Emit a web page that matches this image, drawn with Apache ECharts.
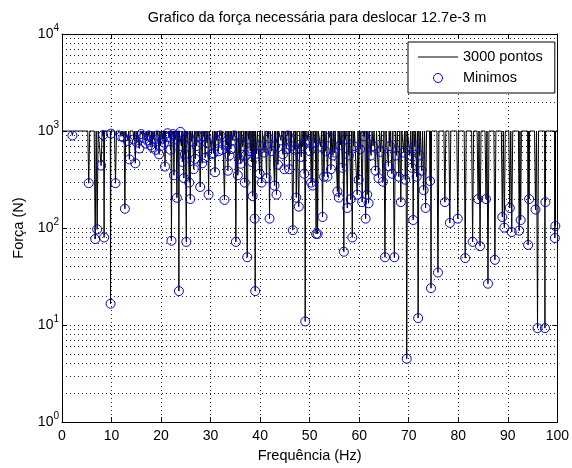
<!DOCTYPE html>
<html><head><meta charset="utf-8">
<script src="https://cdn.jsdelivr.net/npm/echarts@6/dist/echarts.min.js"></script>
<style>html,body{margin:0;padding:0;background:#fff}#c{width:572px;height:468px}</style>
</head><body><div id="c"></div>
<script>
// Minima (blue circles): frequency (Hz) and force (N)
const minFreq = [
  2.1, 5.4, 6.7, 7.1, 7.9, 8.3, 8.5, 9.8, 9.9, 10.8, 11.9, 12.4, 12.7, 13.3, 13.6, 14.5, 14.8, 15.1, 15.6, 16.0,
  16.3, 16.9, 17.2, 17.5, 17.9, 18.2, 18.5, 18.9, 19.2, 19.6, 19.9, 20.3, 20.6, 20.8, 21.3, 21.6, 21.9, 22.1, 22.4, 22.6,
  22.9, 23.2, 23.5, 23.6, 23.9, 24.1, 24.3, 24.6, 24.8, 25.1, 25.3, 25.7, 25.9, 26.2, 26.6, 26.9, 27.2, 27.5, 27.9, 28.3,
  28.6, 28.9, 29.3, 29.6, 30.2, 30.6, 30.9, 31.2, 31.6, 32.0, 32.3, 32.8, 33.2, 33.5, 33.8, 34.1, 34.5, 34.8, 35.1, 35.5,
  35.8, 36.1, 36.5, 36.9, 37.1, 37.4, 37.7, 38.0, 38.3, 38.5, 38.9, 39.0, 39.3, 39.9, 40.0, 40.3, 40.8, 41.3, 41.6, 41.9,
  42.3, 42.9, 43.0, 43.3, 43.6, 44.2, 44.6, 44.9, 45.3, 45.6, 45.9, 46.2, 46.6, 47.0, 47.3, 47.8, 48.3, 48.6, 48.9, 49.1,
  49.5, 50.0, 50.3, 50.6, 51.0, 51.3, 51.6, 52.2, 52.6, 52.9, 53.2, 53.6, 54.0, 54.3, 54.7, 55.0, 55.6, 55.9, 56.2, 56.6,
  56.9, 57.2, 57.6, 57.9, 58.3, 58.6, 58.9, 59.6, 59.9, 60.2, 60.6, 61.0, 61.3, 61.6, 61.9, 62.4, 62.8, 63.3, 63.9, 64.3,
  64.8, 65.2, 65.9, 66.2, 66.6, 67.1, 67.5, 68.0, 68.4, 69.0, 69.3, 69.6, 70.2, 70.6, 70.9, 71.2, 71.6, 71.9, 72.2, 72.6,
  73.0, 73.4, 74.3, 74.5, 75.9, 77.3, 78.3, 79.9, 81.4, 82.9, 84.0, 84.4, 85.6, 86.0, 87.4, 88.9, 89.3, 90.4, 90.8, 92.3,
  92.6, 94.1, 94.3, 95.6, 96.0, 97.5, 97.6, 99.5, 99.6
];
const minForce = [
  900, 290, 77, 97, 440, 910, 80, 16.6, 940, 290, 880, 860, 158, 790, 510, 820, 465, 760, 660, 930,
  850, 740, 800, 900, 712, 680, 820, 640, 900, 575, 700, 820, 760, 430, 950, 860, 640, 74, 930, 350,
  820, 205, 900, 22.4, 980, 700, 480, 327, 575, 72, 850, 294, 199, 780, 404, 517, 700, 880, 265, 465,
  880, 530, 750, 221, 580, 590, 376, 800, 618, 900, 640, 195, 720, 390, 560, 650, 800, 900, 72, 350,
  517, 460, 700, 294, 560, 50, 820, 620, 480, 213, 125, 22.4, 584, 363, 700, 294, 600, 327, 850, 125,
  620, 274, 700, 221, 450, 800, 575, 404, 650, 900, 404, 700, 95, 640, 206, 166, 540, 700, 363, 10.9,
  800, 620, 294, 274, 750, 87, 87, 690, 130, 338, 620, 338, 860, 404, 560, 600, 238, 206, 720, 418,
  57, 820, 161, 560, 199, 80, 700, 221, 315, 650, 185, 880, 125, 221, 180, 560, 700, 390, 327, 610,
  300, 50, 433, 700, 363, 50, 560, 338, 185, 600, 315, 4.5, 560, 418, 121, 700, 338, 11.8, 560, 390,
  246, 161, 305, 24, 34.8, 185, 113, 125, 49, 72, 199, 65, 199, 26.7, 47, 130, 101, 161, 91, 94,
  121, 67, 199, 155, 9.3, 9.3, 185, 79, 105
];
// Saturation level of the 3000-point curve (flat top)
const lineCeiling = 1000;
const xRange = [0, 100];
const xTicks = [0, 10, 20, 30, 40, 50, 60, 70, 80, 90, 100];
const yTicks = [1, 10, 100, 1000, 10000];
const yMinorGrid = [2,3,4,5,6,7,8,9, 20,30,40,50,60,70,80,90, 200,300,400,500,600,700,800,900, 2000,3000,4000,5000,6000,7000,8000,9000];

const FONT = '"Liberation Sans", Arial, sans-serif';

// Build the curve from the minima: flat top, spike down to each minimum
const order = minFreq.map((f, i) => i).sort((a, b) => minFreq[a] - minFreq[b]);
const lineData = [[xRange[0], lineCeiling]];
order.forEach((idx, k) => {
  const f = minFreq[idx];
  const prev = k > 0 ? minFreq[order[k - 1]] : -Infinity;
  const next = k < order.length - 1 ? minFreq[order[k + 1]] : Infinity;
  const w = Math.max(0.02, Math.min(0.2, (f - prev) / 2, (next - f) / 2));
  lineData.push([f - w, lineCeiling], [f, minForce[idx]], [f + w, lineCeiling]);
});
lineData.push([xRange[1], lineCeiling]);
const scatterData = minFreq.map((f, i) => [f, minForce[i]]);

const BLUE = '#0000dd';
const chart = echarts.init(document.getElementById('c'), null, {renderer: 'canvas'});
const dotted = {color: '#222', width: 1, type: [1, 3]};
chart.setOption({
  animation: false,
  backgroundColor: '#fff',
  textStyle: {fontFamily: FONT},
  title: {
    text: 'Grafico da força necessária para deslocar 12.7e-3 m',
    left: 312, top: 5, textAlign: 'center',
    textStyle: {fontFamily: FONT, fontSize: 14.5, fontWeight: 'normal', color: '#000'}
  },
  grid: {left: 62, right: 10, top: 34, bottom: 42, containLabel: false, show: false},
  legend: {
    left: 408, top: 42, orient: 'vertical', z: 10,
    padding: [7, 12, 7, 10], itemGap: 5, itemWidth: 40, itemHeight: 9,
    backgroundColor: '#fff', borderColor: '#000', borderWidth: 1, borderRadius: 0,
    textStyle: {fontFamily: FONT, fontSize: 14.5, color: '#000', lineHeight: 16},
    data: [
      {name: '3000 pontos', icon: 'path://M0,0L40,0L40,1L0,1Z', itemStyle: {color: '#000'}},
      {name: 'Minimos', icon: 'circle', itemStyle: {color: 'rgba(0,0,0,0)', borderColor: BLUE, borderWidth: 1}}
    ]
  },
  xAxis: [{
    type: 'value', min: xRange[0], max: xRange[1], interval: 10,
    name: 'Frequência (Hz)', nameLocation: 'middle', nameGap: 25,
    nameTextStyle: {fontFamily: FONT, fontSize: 14.5, color: '#000'},
    axisLine: {show: true, onZero: false, lineStyle: {color: '#000', width: 1}},
    axisTick: {show: true, inside: true, length: 5, lineStyle: {color: '#000'}},
    axisLabel: {fontFamily: FONT, fontSize: 14, color: '#000', margin: 7,
      formatter: v => xTicks.includes(v) ? String(v) : ''},
    splitLine: {show: true, lineStyle: dotted}
  }, {
    type: 'value', min: xRange[0], max: xRange[1], interval: 10, position: 'top',
    axisLine: {show: true, onZero: false, lineStyle: {color: '#000', width: 1}},
    axisTick: {show: true, inside: true, length: 5, lineStyle: {color: '#000'}},
    axisLabel: {show: false}, splitLine: {show: false}
  }],
  yAxis: [{
    type: 'log', logBase: 10, min: yTicks[0], max: yTicks[yTicks.length - 1], splitNumber: 4,
    name: 'Força (N)', nameLocation: 'middle', nameGap: 35, nameRotate: 90,
    nameTextStyle: {fontFamily: FONT, fontSize: 14.5, color: '#000'},
    axisLine: {show: true, onZero: false, lineStyle: {color: '#000', width: 1}},
    axisTick: {show: true, inside: true, length: 5, lineStyle: {color: '#000'}},
    axisLabel: {
      margin: 3, color: '#000',
      formatter: v => '{b|10}{s|' + Math.round(Math.log10(v)) + '}',
      rich: {
        b: {fontFamily: FONT, fontSize: 14, color: '#000'},
        s: {fontFamily: FONT, fontSize: 10, color: '#000', padding: [0, 0, 11, 0]}
      }
    },
    splitLine: {show: true, lineStyle: dotted}
  }, {
    type: 'log', logBase: 10, min: yTicks[0], max: yTicks[yTicks.length - 1], splitNumber: 4, position: 'right',
    axisLine: {show: true, onZero: false, lineStyle: {color: '#000', width: 1}},
    axisTick: {show: true, inside: true, length: 5, lineStyle: {color: '#000'}},
    axisLabel: {show: false}, splitLine: {show: false}
  }],
  series: [{
    name: 'minorGrid', type: 'line', data: [], z: 1, silent: true,
    markLine: {
      z: 1, silent: true, symbol: ['none', 'none'], label: {show: false}, animation: false,
      lineStyle: dotted, emphasis: {disabled: true},
      data: yMinorGrid.map(v => ({yAxis: v}))
    }
  }, {
    name: '3000 pontos', type: 'line', data: lineData, z: 2,
    symbol: 'none', showSymbol: false, silent: true,
    lineStyle: {color: '#000', width: 1}, itemStyle: {color: '#000'}
  }, {
    name: 'Minimos', type: 'scatter', data: scatterData, z: 3,
    symbol: 'circle', symbolSize: 9, silent: true,
    itemStyle: {color: 'rgba(0,0,0,0)', borderColor: BLUE, borderWidth: 1, opacity: 1}
  }]
});
</script>
</body></html>
